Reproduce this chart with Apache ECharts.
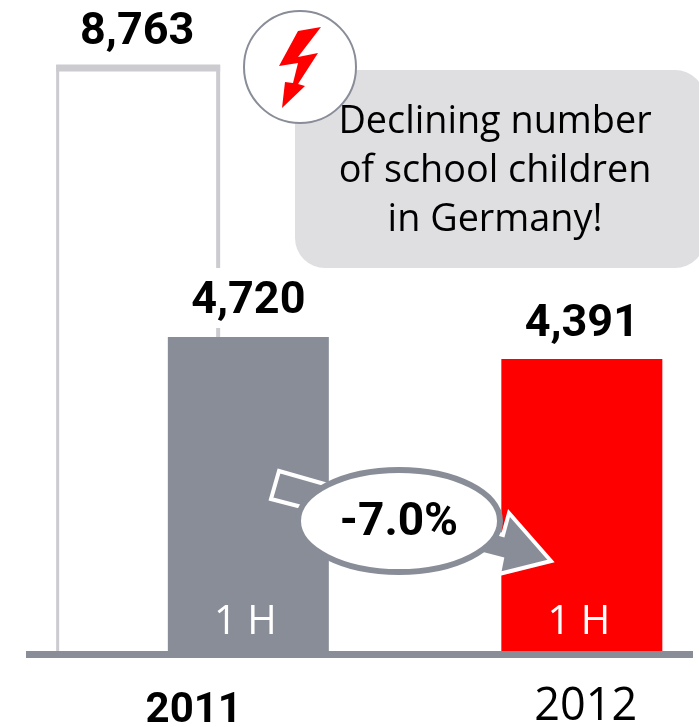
<!DOCTYPE html>
<html>
<head>
<meta charset="utf-8">
<style>html,body{margin:0;padding:0;background:#fff}#chart{width:699px;height:727px}</style>
<script src="https://cdn.jsdelivr.net/npm/echarts@6/dist/echarts.min.js"></script>
</head>
<body>
<div id="chart"></div>
<script>
// Slots along the baseline; empty slots only space the bars out.
const slots = ['', '2011 full year', '2011 1 H', '', '', '2012 1 H', ''];
const pupils = [null, 8763, 4720, null, null, 4391, null];
const halfYearLabel = '1 H';
const halfYears = [null, null, 4720, null, null, 4391, null];
// Year ticks sit on a finer grid so that 2011 falls between its two bars.
const yearTicks = ['', '', '', '2011', '', '', '', '', '', '', '2012', '', ''];
const changeLabel = '-7.0%';
const calloutLines = ['Declining number', 'of school children', 'in Germany!'];

const GREY = '#898d98', RED = '#ff0000', OUTLINE = '#cbcbd0';

const barColour = i => (i === 5 ? RED : i === 2 ? GREY : 'transparent');

// Value label placement per bar; the 2011 half-year label masks the outline behind it.
const valueLabel = i => {
  if (i === 1) return { distance: 10 };
  if (i === 2) return { distance: 9, backgroundColor: '#fff', padding: [11, 40, 4, 40] };
  return { distance: 12 };
};

const chart = echarts.init(document.getElementById('chart'), null, { renderer: 'canvas' });

chart.setOption({
  animation: false,
  backgroundColor: '#fff',
  grid: { left: 26, right: 6, top: 49, bottom: 72.5, outerBoundsMode: 'none' },
  xAxis: [
    {
      type: 'category', data: slots, boundaryGap: false, z: 10,
      axisLine: { lineStyle: { color: GREY, width: 7, cap: 'butt' } },
      axisTick: { show: false }, axisLabel: { show: false }
    },
    {
      type: 'category', data: yearTicks, boundaryGap: false, position: 'bottom',
      axisLine: { show: false }, axisTick: { show: false },
      axisLabel: {
        interval: 0, margin: 30, color: '#000',
        formatter: v => (v ? `{${v === '2011' ? 'bold' : 'plain'}|${v}}` : ''),
        rich: {
          bold: { fontFamily: 'Roboto', fontWeight: 'bold', fontSize: 42, padding: [6, 0, 0, 2] },
          plain: { fontFamily: 'Open Sans', fontSize: 45, padding: [0, 0, 0, 8] }
        }
      }
    }
  ],
  yAxis: { type: 'value', min: 0, max: 9000, show: false, splitLine: { show: false } },
  series: [
    {
      // Open outline of the full-year figure: thin sides, heavy top edge.
      type: 'custom', z: 1, xAxisIndex: 0,
      data: [[1, pupils[1]]],
      encode: { x: 0, y: 1 },
      renderItem(params, api) {
        const top = api.coord([api.value(0), api.value(1)]);
        const base = api.coord([api.value(0), 0]);
        const line = (x1, y1, x2, y2, w) => ({
          type: 'line', shape: { x1, y1, x2, y2 },
          style: { stroke: OUTLINE, lineWidth: w, fill: null }
        });
        return {
          type: 'group',
          children: [
            line(top[0] - 79.5, top[1], top[0] - 79.5, base[1], 3),
            line(top[0] + 81, top[1], top[0] + 81, base[1], 4),
            line(top[0] - 81, top[1] + 3, top[0] + 83, top[1] + 3, 7)
          ]
        };
      }
    },
    {
      type: 'bar', z: 2, xAxisIndex: 0, barWidth: 161, barGap: '-100%',
      data: pupils.map((v, i) => ({
        value: v,
        itemStyle: { color: barColour(i) },
        label: valueLabel(i)
      })),
      label: {
        show: true, position: 'top', color: '#000',
        fontFamily: 'Roboto', fontWeight: 'bold', fontSize: 45,
        formatter: p => p.value.toLocaleString('en-US')
      }
    },
    {
      type: 'bar', z: 3, xAxisIndex: 0, barWidth: 161, barGap: '-100%',
      data: halfYears,
      itemStyle: { color: 'transparent' },
      label: {
        show: true, position: 'insideBottom', distance: 12, offset: [-3, 0], color: '#fff',
        fontFamily: 'Open Sans', fontSize: 40, fontWeight: 400,
        formatter: () => halfYearLabel
      }
    }
  ],
  graphic: [
    {
      type: 'rect', z: 100,
      shape: { x: 295, y: 70, width: 410, height: 198, r: 30 },
      style: { fill: '#dfdfe2' }
    },
    {
      type: 'text', z: 101, x: 495, y: 98,
      style: {
        text: calloutLines.join('\n'), align: 'center', fill: '#000',
        font: '37.8px "Open Sans"', lineHeight: 49
      }
    },
    {
      type: 'circle', z: 102,
      shape: { cx: 300, cy: 67, r: 56 },
      style: { fill: '#fff', stroke: GREY, lineWidth: 2 }
    },
    {
      type: 'polygon', z: 103,
      shape: { points: [[321, 27], [298, 31], [279, 66], [298, 63], [293, 83], [285, 82], [282, 108], [305, 86], [298, 84], [318, 53], [298, 57]] },
      style: { fill: RED }
    },
    {
      type: 'polygon', z: 104,
      shape: { points: [[279, 471], [503, 535], [509, 513], [551, 561], [499, 574], [502, 559], [271, 499]] },
      style: { fill: GREY, stroke: '#fff', lineWidth: 4, lineJoin: 'miter' }
    },
    {
      type: 'ellipse', z: 105,
      shape: { cx: 399, cy: 521, rx: 101, ry: 51 },
      style: { fill: '#fff', stroke: GREY, lineWidth: 6 }
    },
    {
      type: 'text', z: 106, x: 399, y: 523,
      style: {
        text: changeLabel, align: 'center', verticalAlign: 'middle', fill: '#000',
        font: 'bold 46px Roboto'
      }
    }
  ]
});
</script>
</body>
</html>
